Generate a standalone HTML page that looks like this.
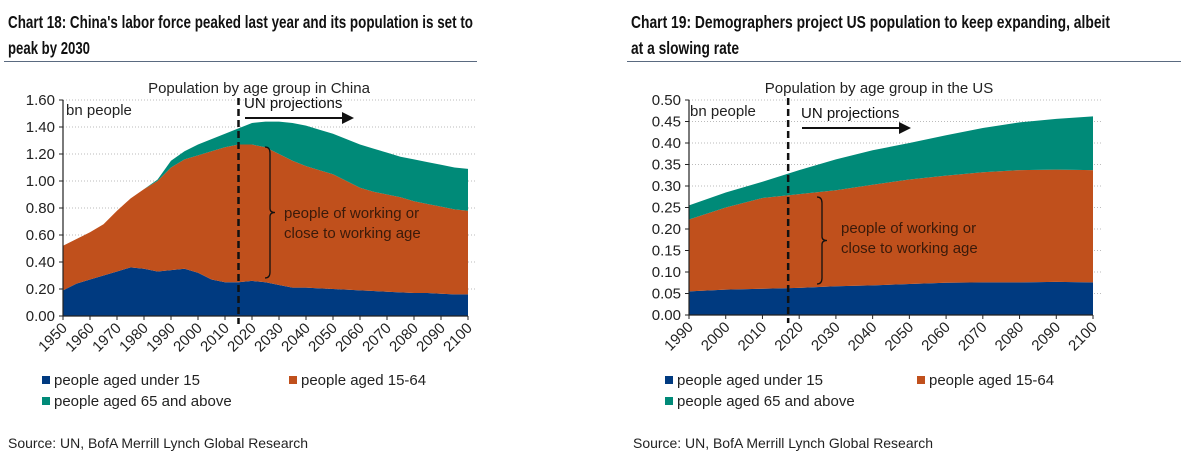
<!DOCTYPE html>
<html><head><meta charset="utf-8">
<style>
html,body{margin:0;padding:0;background:#fff;}
svg{display:block;font-family:"Liberation Sans",Arial,sans-serif;}
</style></head>
<body>
<svg id="root" width="1183" height="461" viewBox="0 0 1183 461" xmlns="http://www.w3.org/2000/svg">
<g>
<text x="8" y="28" font-size="17.5" font-weight="bold" fill="#111" textLength="465" lengthAdjust="spacingAndGlyphs">Chart 18: China's labor force peaked last year and its population is set to</text>
<text x="8" y="54" font-size="17.5" font-weight="bold" fill="#111" textLength="82" lengthAdjust="spacingAndGlyphs">peak by 2030</text>
<line x1="4" y1="61.5" x2="477" y2="61.5" stroke="#5a6a80" stroke-width="1"/>
</g>
<g>
<text x="631" y="28" font-size="17.5" font-weight="bold" fill="#111" textLength="479" lengthAdjust="spacingAndGlyphs">Chart 19: Demographers project US population to keep expanding, albeit</text>
<text x="631" y="54" font-size="17.5" font-weight="bold" fill="#111" textLength="108" lengthAdjust="spacingAndGlyphs">at a slowing rate</text>
<line x1="627" y1="61.5" x2="1181" y2="61.5" stroke="#5a6a80" stroke-width="1"/>
</g>
<g id="c1"></g>
<g id="c2"></g>
</svg>
<script>
// ---- China data ----
const cnYears = [1950,1955,1960,1965,1970,1975,1980,1985,1990,1995,2000,2005,2010,2015,2020,2025,2030,2035,2040,2045,2050,2055,2060,2065,2070,2075,2080,2085,2090,2095,2100];
const cnUnder15 = [0.19,0.24,0.27,0.30,0.33,0.36,0.35,0.33,0.34,0.35,0.32,0.27,0.25,0.25,0.26,0.25,0.23,0.21,0.21,0.205,0.20,0.195,0.19,0.185,0.18,0.175,0.17,0.17,0.165,0.16,0.16];
const cnWorking = [0.33,0.33,0.35,0.38,0.45,0.51,0.59,0.67,0.76,0.81,0.87,0.95,1.00,1.02,1.01,1.00,0.97,0.94,0.90,0.875,0.85,0.805,0.76,0.735,0.72,0.705,0.68,0.66,0.645,0.63,0.62];
const cnOld = [0,0,0,0,0,0,0,0.01,0.05,0.06,0.08,0.09,0.10,0.12,0.16,0.19,0.24,0.28,0.30,0.30,0.30,0.31,0.32,0.32,0.31,0.30,0.31,0.31,0.31,0.31,0.31];
const cnYTicks = ["0.00","0.20","0.40","0.60","0.80","1.00","1.20","1.40","1.60"];
const cnXTicks = [1950,1960,1970,1980,1990,2000,2010,2020,2030,2040,2050,2060,2070,2080,2090,2100];
// ---- US data ----
const usYears = [1990,2000,2010,2020,2030,2040,2050,2060,2070,2080,2090,2100];
const usUnder15 = [0.055,0.059,0.061,0.063,0.067,0.069,0.072,0.075,0.076,0.076,0.077,0.076];
const usWorking = [0.167,0.191,0.211,0.218,0.223,0.234,0.243,0.249,0.256,0.261,0.261,0.261];
const usOld = [0.033,0.035,0.038,0.056,0.072,0.080,0.085,0.094,0.103,0.111,0.118,0.125];
const usYTicks = ["0.00","0.05","0.10","0.15","0.20","0.25","0.30","0.35","0.40","0.45","0.50"];
const usXTicks = [1990,2000,2010,2020,2030,2040,2050,2060,2070,2080,2090,2100];

const NS="http://www.w3.org/2000/svg";
const COL=["#003a80","#c0501c","#008a78"];
function mk(p,tag,attrs,txt){const e=document.createElementNS(NS,tag);for(const k in attrs)e.setAttribute(k,attrs[k]);if(txt!==undefined)e.textContent=txt;p.appendChild(e);return e;}

function draw(g,cfg){
  const {years,series,yTicks,xTicks,x0,x1,y0,y1,ymax,xmin,xmax,projYear}=cfg;
  const sx=v=>x0+(v-xmin)/(xmax-xmin)*(x1-x0);
  const sy=v=>y0-v/ymax*(y0-y1);
  yTicks.forEach(t=>{const v=parseFloat(t);const y=sy(v);
    if(v>0){const l=mk(g,'line',{x1:x0,x2:x1+8,y1:y,y2:y,stroke:'#bbb','stroke-dasharray':'1,2'});
    
    }
    const tx=mk(g,'text',{x:x0-8,y:y+5,'font-size':15,'text-anchor':'end',fill:'#222'},t);
    
    
  });
  const names=['area-under-15','area-15-64','area-65-plus'];
  let base=years.map(()=>0);
  series.forEach((s,i)=>{
    const top=s.map((v,j)=>base[j]+v);
    let d='M'+years.map((yr,j)=>sx(yr)+','+sy(top[j])).join(' L');
    for(let j=years.length-1;j>=0;j--)d+=' L'+sx(years[j])+','+sy(base[j]);
    const p=mk(g,'path',{d:d+'Z',fill:COL[i]});
    
    
    base=top;
  });
  const ax=mk(g,'path',{d:`M${x0},${sy(ymax)} L${x0},${y0} L${x1},${y0}`,stroke:'#222','stroke-width':1.2,fill:'none'});
  
  
  yTicks.forEach(t=>{mk(g,'line',{x1:x0-4,x2:x0,y1:sy(parseFloat(t)),y2:sy(parseFloat(t)),stroke:'#222'});});
  xTicks.forEach(t=>{const x=sx(t);
    mk(g,'line',{x1:x,x2:x,y1:y0,y2:y0+4,stroke:'#222'});
    const tx=mk(g,'text',{x:x+5,y:y0+13,'font-size':15,'text-anchor':'end',fill:'#222',transform:`rotate(-45 ${x+5} ${y0+13})`},t);
    
    
  });
  const px=sx(projYear);
  const dl=mk(g,'line',{x1:px,x2:px,y1:sy(ymax)-2,y2:y0+8,stroke:'#111','stroke-width':2.5,'stroke-dasharray':'7,4'});
  
  
}

const g1=document.getElementById('c1'), g2=document.getElementById('c2');
draw(g1,{years:cnYears,series:[cnUnder15,cnWorking,cnOld],yTicks:cnYTicks,xTicks:cnXTicks,x0:63,x1:468,y0:316,y1:100,ymax:1.6,xmin:1950,xmax:2100,projYear:2015});
draw(g2,{years:usYears,series:[usUnder15,usWorking,usOld],yTicks:usYTicks,xTicks:usXTicks,x0:689,x1:1093,y0:315,y1:100,ymax:0.5,xmin:1990,xmax:2100,projYear:2017});

function annot(g,o){
  let t=mk(g,'text',{x:o.subX,y:93,'font-size':15,'text-anchor':'middle',fill:'#222'},o.sub);
  
  
  t=mk(g,'text',{x:o.bnX,y:o.bnY,'font-size':15,fill:'#222'},'bn people');
  
  
  t=mk(g,'text',{x:o.unX,y:o.unY,'font-size':15,fill:'#111'},'UN projections');
  
  
  const a=mk(g,'path',{d:`M${o.unX+1},${o.unY+10} L${o.arX-10},${o.unY+10}`,stroke:'#111','stroke-width':2});
  
  
  mk(g,'path',{d:`M${o.arX},${o.unY+10} L${o.arX-12},${o.unY+4} L${o.arX-12},${o.unY+16}Z`,fill:'#111'});
  const b=o.br, m=(b.y1+b.y2)/2;
  const br=mk(g,'path',{d:`M${b.x},${b.y1} Q${b.x+5},${b.y1} ${b.x+5},${b.y1+6} L${b.x+5},${m-4} Q${b.x+5},${m} ${b.x+10},${m} Q${b.x+5},${m} ${b.x+5},${m+4} L${b.x+5},${b.y2-6} Q${b.x+5},${b.y2} ${b.x},${b.y2}`,stroke:'#111','stroke-width':1.3,fill:'none'});
  
  
  t=mk(g,'text',{x:o.wx,y:o.wy,'font-size':15,fill:'#3a1a0a'},'people of working or');
  
  
  t=mk(g,'text',{x:o.wx,y:o.wy+20,'font-size':15,fill:'#3a1a0a'},'close to working age');
  
  
  const L=[['people aged under 15',o.lx1,383],['people aged 15-64',o.lx2,383],['people aged 65 and above',o.lx1,404]];
  L.forEach((l,i)=>{
    const r=mk(g,'rect',{x:l[1],y:l[2]-7,width:8,height:8,fill:COL[i]});
    
    
    const tx=mk(g,'text',{x:l[1]+12,y:l[2]+2,'font-size':15,fill:'#222'},l[0]);
    
    
  });
  t=mk(g,'text',{x:o.srcX,y:448,'font-size':14,fill:'#222',textLength:300,lengthAdjust:'spacingAndGlyphs'},'Source: UN, BofA Merrill Lynch Global Research');
  
  
}
annot(g1,{sub:'Population by age group in China',subX:259,bnX:66,bnY:115,unX:244,unY:108,arX:354,br:{x:265,y1:147,y2:278},wx:284,wy:218,lx1:42,lx2:289,srcX:8});
annot(g2,{sub:'Population by age group in the US',subX:879,bnX:690,bnY:116,unX:801,unY:118,arX:911,br:{x:817,y1:197,y2:284},wx:841,wy:233,lx1:665,lx2:917,srcX:633});
</script>
</body></html>
